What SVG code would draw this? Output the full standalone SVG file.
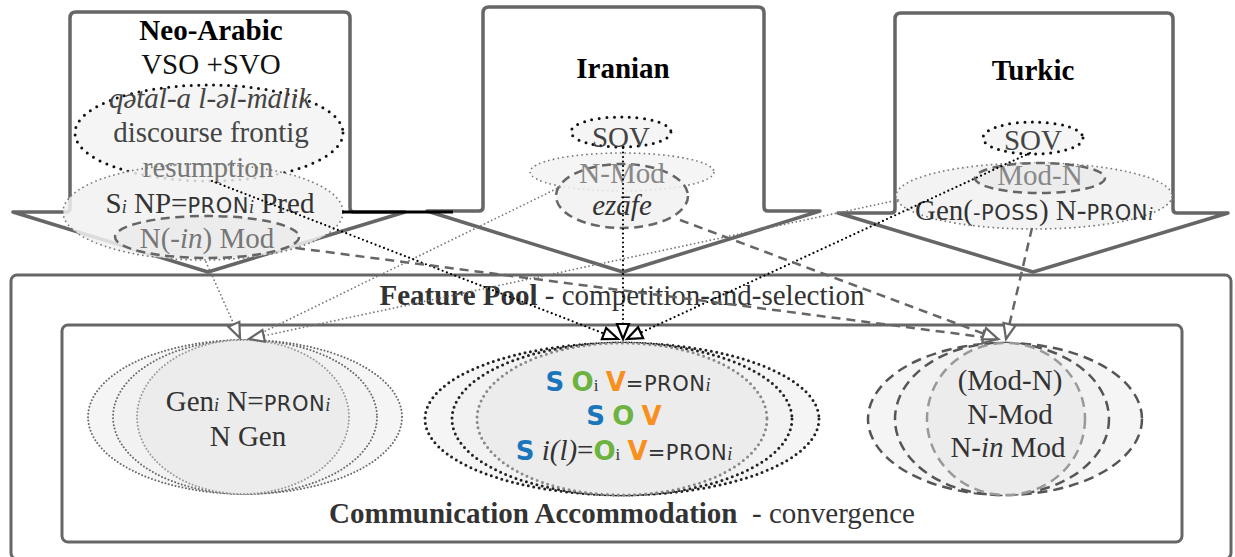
<svg xmlns="http://www.w3.org/2000/svg" width="1235" height="557" viewBox="0 0 1235 557">
<style>
.lbl{font-family:"Liberation Serif","DejaVu Serif",serif;font-size:29px;text-anchor:middle;fill:#333}
.b{font-weight:bold}
.it{font-style:italic}
.sc{font-family:"DejaVu Sans","Liberation Sans",sans-serif;font-size:21px;letter-spacing:0.5px}
.sub{font-size:18px;font-style:italic}
.subr{font-size:17px}
.ss{font-family:"DejaVu Sans","Liberation Sans",sans-serif;font-weight:bold;font-size:26px}
.cs{fill:#1a75bb}.co{fill:#6cb33f}.cv{fill:#f7901e}
.arrow{fill:#fff;stroke:#666;stroke-width:3.5;stroke-linejoin:round}
.frame{fill:#fff;stroke:#666;stroke-width:3}
.kdot{stroke:#111;stroke-width:3;stroke-dasharray:0 7.5;stroke-linecap:round}
.ldot{stroke:#777;stroke-width:1.6;stroke-dasharray:1.6 3.2}
.dsh{stroke:#666;stroke-width:2.5;stroke-dasharray:9 5.5}
.f1{fill:#f5f5f5}.f2{fill:#f1f1f1;fill-opacity:0.85}.f3{fill:#ececec}
.gdot{stroke:#666;stroke-width:2;stroke-dasharray:0 3.5;stroke-linecap:round}
.gdot2{stroke:#999;stroke-width:2;stroke-dasharray:0 3.5;stroke-linecap:round}
.bdot{stroke:#222;stroke-width:3;stroke-dasharray:0 5.5;stroke-linecap:round}
.bdot2{stroke:#888;stroke-width:3;stroke-dasharray:0 5.5;stroke-linecap:round}
.gdsh{stroke:#555;stroke-width:2.5;stroke-dasharray:10 6}
.gdsh2{stroke:#999;stroke-width:2.5;stroke-dasharray:10 6}
.cn{fill:none}
.ck{stroke:#000;stroke-width:2.2;stroke-dasharray:0 4.5;stroke-linecap:round}
.cl{stroke:#777;stroke-width:1.8;stroke-dasharray:0 4;stroke-linecap:round}
.cd{stroke:#666;stroke-width:2.5;stroke-dasharray:9 6}
</style>
<defs>
<marker id="ag" markerWidth="20" markerHeight="16" refX="17" refY="8" orient="auto" markerUnits="userSpaceOnUse"><path d="M2,2 L17,8 L2,14 Z" fill="#fff" stroke="#666" stroke-width="2.2"/></marker>
<marker id="ak" markerWidth="20" markerHeight="16" refX="17" refY="8" orient="auto" markerUnits="userSpaceOnUse"><path d="M2,2 L17,8 L2,14 Z" fill="#fff" stroke="#000" stroke-width="2.2"/></marker>
</defs>

<g id="feature-pool">
<rect class="frame" x="11" y="275" width="1220" height="284" rx="6"/>
<text class="lbl" x="622" y="305"><tspan class="b">Feature Pool</tspan> - competition-and-selection</text>
</g>
<g id="communication-accommodation">
<rect class="frame" x="62" y="325" width="1120" height="217" rx="6"/>
<text class="lbl" x="622" y="523"><tspan class="b">Communication Accommodation</tspan>&#160; - convergence</text>
</g>

<g id="neo-arabic">
<path class="arrow" d="M13,212 L66,212 Q70,212 70,208 L70,18 Q70,12 76,12 L344,12 Q350,12 350,18 L350,208 Q350,212 354,212 L405,212 L208,272 Z"/>
<ellipse class="f1 kdot" cx="209" cy="133" rx="134" ry="48"/>
<ellipse class="f2 ldot" cx="203" cy="212" rx="140" ry="48"/>
<ellipse class="f3 dsh" cx="207" cy="237" rx="92" ry="21"/>
<text class="lbl b" x="211" y="40" style="fill:#000">Neo-Arabic</text>
<text class="lbl" x="211" y="74" style="fill:#111">VSO +SVO</text>
<text class="lbl it" x="210" y="108" style="fill:#444">qətal-a l-əl-malik</text>
<text class="lbl" x="211" y="142" style="fill:#444">discourse frontig</text>
<text class="lbl" x="208" y="177" style="fill:#777">resumption</text>
<text class="lbl" x="210" y="213">S<tspan class="sub">i</tspan> NP=<tspan class="sc">PRON</tspan><tspan class="sub">i</tspan> Pred</text>
<text class="lbl" x="207" y="248" style="fill:#777">N(-<tspan class="it">in</tspan>) Mod</text>
</g>

<g id="iranian">
<path class="arrow" d="M427,211 L479,211 Q483,211 483,207 L483,13 Q483,7 489,7 L758,7 Q764,7 764,13 L764,207 Q764,211 768,211 L820,211 L623,272 Z"/>
<ellipse class="f1 kdot" cx="621" cy="132" rx="50" ry="15"/>
<ellipse class="f1 ldot" cx="622" cy="172" rx="92" ry="19"/>
<ellipse class="f2 dsh" cx="622" cy="196" rx="66" ry="32"/>
<text class="lbl b" x="623" y="78" style="fill:#000">Iranian</text>
<text class="lbl" x="621" y="147" style="fill:#444">SOV</text>
<text class="lbl" x="622" y="183" style="fill:#888">N-Mod</text>
<text class="lbl it" x="622" y="215">ezāfe</text>
</g>

<g id="turkic">
<path class="arrow" d="M838,213 L891,213 Q895,213 895,209 L895,19 Q895,13 901,13 L1167,13 Q1173,13 1173,19 L1173,209 Q1173,213 1177,213 L1228,213 L1033,272 Z"/>
<ellipse class="f1 kdot" cx="1033" cy="138" rx="50" ry="16"/>
<ellipse class="f2 ldot" cx="1034" cy="196" rx="138" ry="33"/>
<ellipse class="f3 dsh" cx="1040" cy="178" rx="65" ry="15"/>
<text class="lbl b" x="1033" y="80" style="fill:#000">Turkic</text>
<text class="lbl" x="1033" y="150" style="fill:#444">SOV</text>
<text class="lbl" x="1040" y="185" style="fill:#888">Mod-N</text>
<text class="lbl" x="1034" y="220">Gen(<tspan class="sc">-POSS</tspan>) N-<tspan class="sc">PRON</tspan><tspan class="sub">i</tspan></text>
</g>

<g id="genitive-group">
<ellipse class="f1 gdot" cx="245" cy="417" rx="157" ry="77"/>
<ellipse class="f2 gdot" cx="245" cy="417" rx="132" ry="77"/>
<ellipse class="f3 gdot2" cx="243" cy="417" rx="106" ry="77"/>
<text class="lbl" x="248" y="411">Gen<tspan class="sub">i</tspan> N=<tspan class="sc">PRON</tspan><tspan class="sub">i</tspan></text>
<text class="lbl" x="248" y="446">N Gen</text>
</g>

<g id="word-order-group">
<ellipse class="f1 bdot" cx="622" cy="419" rx="197" ry="76"/>
<ellipse class="f2 bdot" cx="622" cy="419" rx="170" ry="76"/>
<ellipse class="f3 bdot2" cx="622" cy="419" rx="145" ry="76"/>
<text class="lbl" x="628" y="391"><tspan class="ss cs">S</tspan> <tspan class="ss co">O</tspan><tspan class="subr">i</tspan> <tspan class="ss cv">V</tspan><tspan class="sc">=PRON</tspan><tspan class="sub">i</tspan></text>
<text class="lbl" x="624" y="425"><tspan class="ss cs">S</tspan> <tspan class="ss co">O</tspan> <tspan class="ss cv">V</tspan></text>
<text class="lbl" x="624" y="460"><tspan class="ss cs">S</tspan> <tspan class="it">i(l)</tspan>=<tspan class="ss co">O</tspan><tspan class="subr">i</tspan> <tspan class="ss cv">V</tspan><tspan class="sc">=PRON</tspan><tspan class="sub">i</tspan></text>
</g>

<g id="modifier-group">
<ellipse class="f1 gdsh" cx="1005" cy="419" rx="137" ry="76"/>
<ellipse class="f2 gdsh" cx="1002" cy="419" rx="107" ry="76"/>
<ellipse class="f3 gdsh2" cx="1006" cy="419" rx="79" ry="76"/>
<text class="lbl" x="1010" y="390">(Mod-N)</text>
<text class="lbl" x="1010" y="424">N-Mod</text>
<text class="lbl" x="1008" y="457">N-<tspan class="it">in</tspan> Mod</text>
</g>

<g id="connectors">
<line x1="342" y1="212" x2="453" y2="212" stroke="#000" stroke-width="3"/>
<path class="cn cl" d="M206,262 L240,338" marker-end="url(#ag)"/>
<path class="cn cl" d="M560,187 L249,339"/>
<path class="cn cl" d="M898,200 L249,339" marker-end="url(#ag)"/>
<path class="cn ck" d="M212,181 L618,339" marker-end="url(#ak)"/>
<path class="cn ck" d="M623,148 L623,339" marker-end="url(#ak)"/>
<path class="cn ck" d="M1030,153 L627,339" marker-end="url(#ak)"/>
<path class="cn cd" d="M296,248 L998,339" marker-end="url(#ag)"/>
<path class="cn cd" d="M680,220 L998,339" marker-end="url(#ag)"/>
<path class="cn cd" d="M1032,228 L1006,339" marker-end="url(#ag)"/>
</g>
</svg>
